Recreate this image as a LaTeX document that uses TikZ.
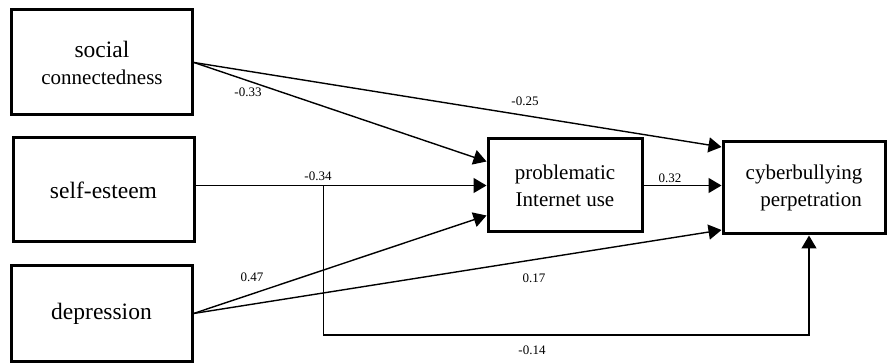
\documentclass[tikz,border=0pt]{standalone}
\usepackage{fontspec}
\setmainfont{Liberation Serif}
\usetikzlibrary{arrows.meta,calc}

\begin{document}
\begin{tikzpicture}[x=1pt, y=-1pt,
  var/.style={draw, line width=3pt, align=center, inner sep=0pt,
    font=\fontsize{21}{27}\selectfont},
  eff/.style={line width=1.4pt, -{Triangle[length=13pt,width=15pt]}},
  coef/.style={font=\fontsize{13}{15}\selectfont, inner sep=0pt}]

\useasboundingbox (0,0) rectangle (888,363);

% predictors
\node[var, minimum width=181pt, minimum height=105pt] (soc) at (102,62.5)
  {{\fontsize{23.5}{27}\selectfont social}\\connectedness};
\node[var, minimum width=181pt, minimum height=104pt] (self) at (103.5,190)
  {\fontsize{23.5}{27}\selectfont self-esteem};
\node[var, minimum width=181pt, minimum height=96pt] (dep) at (101.5,313.5)
  {\fontsize{23.5}{27}\selectfont depression};

% mediator and outcome
\node[var, minimum width=154pt, minimum height=93pt] (piu) at (565,185.5)
  {problematic\\Internet use};
\node[var, minimum width=162pt, minimum height=92pt] (cyb) at (804,188)
  {cyberbullying\\\hspace*{14pt}perpetration};

% paths to problematic Internet use
\draw[eff] (soc.east) -- ($(piu.west)+(0,-24)$);
\draw[eff] (self.east |- piu.west) -- (piu.west);
\draw[eff] (dep.east) -- ($(piu.west)+(0,30)$);

% paths to cyberbullying perpetration
\draw[eff] (soc.east) -- ($(cyb.west)+(0,-41)$);
\draw[eff] (piu.east) -- (piu.east -| cyb.west);
\draw[eff] (dep.east) -- ($(cyb.west)+(0,42)$);
\coordinate (br) at ($(self.east |- piu.west)+(128,0)$);
\draw[eff] (br) -- ++(0,149.5) -| ($(cyb.south)+(5,0)$);

% coefficients
\node[coef] (c-soc-piu) at (248,92) {-0.33};
\node[coef] (c-soc-cyb) at (525,101) {-0.25};
\node[coef] (c-self-piu) at (318,176) {-0.34};
\node[coef] (c-piu-cyb) at (670,178) {0.32};
\node[coef] (c-dep-piu) at (252,277) {0.47};
\node[coef] (c-dep-cyb) at (534,278) {0.17};
\node[coef] (c-self-cyb) at (532,350) {-0.14};

\end{tikzpicture}
\end{document}
